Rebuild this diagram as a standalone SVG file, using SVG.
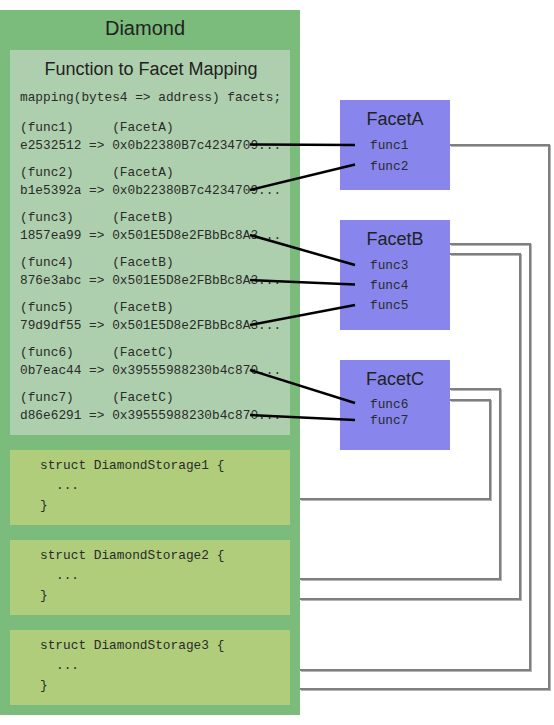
<svg xmlns="http://www.w3.org/2000/svg" width="554" height="725" viewBox="0 0 554 725">
<style>
.sans{font-family:"Liberation Sans",Arial,sans-serif;fill:#222}
.mono{font-family:"Liberation Mono","DejaVu Sans Mono",monospace;font-size:12.8px;fill:#2a2a2a}
.blk{stroke:#000;stroke-width:2.5;fill:none}
.gsh{stroke:#b4b4b4;stroke-width:2;fill:none}
.gln{stroke:#7f7f7f;stroke-width:2;fill:none}
.facet{fill:#8886ec}
.storage{fill:#b0cd7b}
</style>
<rect width="554" height="725" fill="#fff"/>
<g id="diamond">
<rect x="0" y="10" width="300" height="705" fill="#7bbb7b"/>
<text class="sans" x="145" y="35" font-size="20" text-anchor="middle">Diamond</text>
</g>
<g id="mapping">
<rect x="10" y="50" width="280" height="385" fill="#aecfad"/>
<text class="sans" x="151" y="75" font-size="18" text-anchor="middle">Function to Facet Mapping</text>
<text class="mono" x="20" y="101">mapping(bytes4 =&gt; address) facets;</text>
<text class="mono" xml:space="preserve" x="20" y="131">(func1)     (FacetA)</text>
<text class="mono" x="20" y="149">e2532512 =&gt; 0x0b22380B7c4234709...</text>
<text class="mono" xml:space="preserve" x="20" y="176">(func2)     (FacetA)</text>
<text class="mono" x="20" y="194">b1e5392a =&gt; 0x0b22380B7c4234709...</text>
<text class="mono" xml:space="preserve" x="20" y="221">(func3)     (FacetB)</text>
<text class="mono" x="20" y="239">1857ea99 =&gt; 0x501E5D8e2FBbBc8A3...</text>
<text class="mono" xml:space="preserve" x="20" y="266">(func4)     (FacetB)</text>
<text class="mono" x="20" y="284">876e3abc =&gt; 0x501E5D8e2FBbBc8A3...</text>
<text class="mono" xml:space="preserve" x="20" y="311">(func5)     (FacetB)</text>
<text class="mono" x="20" y="329">79d9df55 =&gt; 0x501E5D8e2FBbBc8A3...</text>
<text class="mono" xml:space="preserve" x="20" y="356">(func6)     (FacetC)</text>
<text class="mono" x="20" y="374">0b7eac44 =&gt; 0x39555988230b4c870...</text>
<text class="mono" xml:space="preserve" x="20" y="401">(func7)     (FacetC)</text>
<text class="mono" x="20" y="419">d86e6291 =&gt; 0x39555988230b4c870...</text>
</g>
<g id="storage1">
<rect class="storage" x="10" y="450" width="280" height="75"/>
<text class="mono" x="40" y="469">struct DiamondStorage1 {</text>
<text class="mono" x="56" y="489">...</text>
<text class="mono" x="40" y="509">}</text>
</g>
<g id="storage2">
<rect class="storage" x="10" y="540" width="280" height="75"/>
<text class="mono" x="40" y="559">struct DiamondStorage2 {</text>
<text class="mono" x="56" y="579">...</text>
<text class="mono" x="40" y="599">}</text>
</g>
<g id="storage3">
<rect class="storage" x="10" y="630" width="280" height="75"/>
<text class="mono" x="40" y="649">struct DiamondStorage3 {</text>
<text class="mono" x="56" y="669">...</text>
<text class="mono" x="40" y="689">}</text>
</g>
<g id="facetA">
<rect class="facet" x="340" y="100" width="110" height="90"/>
<text class="sans" x="395" y="125" font-size="18" text-anchor="middle">FacetA</text>
<text class="mono" x="370" y="149">func1</text>
<text class="mono" x="370" y="170">func2</text>
</g>
<g id="facetB">
<rect class="facet" x="340" y="220" width="110" height="110"/>
<text class="sans" x="395" y="245" font-size="18" text-anchor="middle">FacetB</text>
<text class="mono" x="370" y="269">func3</text>
<text class="mono" x="370" y="289">func4</text>
<text class="mono" x="370" y="309">func5</text>
</g>
<g id="facetC">
<rect class="facet" x="340" y="360" width="110" height="90"/>
<text class="sans" x="395" y="385" font-size="18" text-anchor="middle">FacetC</text>
<text class="mono" x="370" y="408">func6</text>
<text class="mono" x="370" y="424">func7</text>
</g>
<g id="connectors">
<g transform="translate(1,1)">
<path class="gsh" d="M450 145H549V689H300"/>
<path class="gsh" d="M450 244H530V670H300"/>
<path class="gsh" d="M450 254H520V599H300"/>
<path class="gsh" d="M450 389H500V579H300"/>
<path class="gsh" d="M450 400H490V499H300"/>
</g>
<path class="gln" d="M450 145H549V689H300"/>
<path class="gln" d="M450 244H530V670H300"/>
<path class="gln" d="M450 254H520V599H300"/>
<path class="gln" d="M450 389H500V579H300"/>
<path class="gln" d="M450 400H490V499H300"/>
<path class="blk" d="M250 144.5L355 145"/>
<path class="blk" d="M250 190L355 164.5"/>
<path class="blk" d="M250 235L355 265"/>
<path class="blk" d="M250 280L355 284.5"/>
<path class="blk" d="M250 325L355 305"/>
<path class="blk" d="M250 370L355 403"/>
<path class="blk" d="M250 415L355 420"/>
</g>
</svg>
